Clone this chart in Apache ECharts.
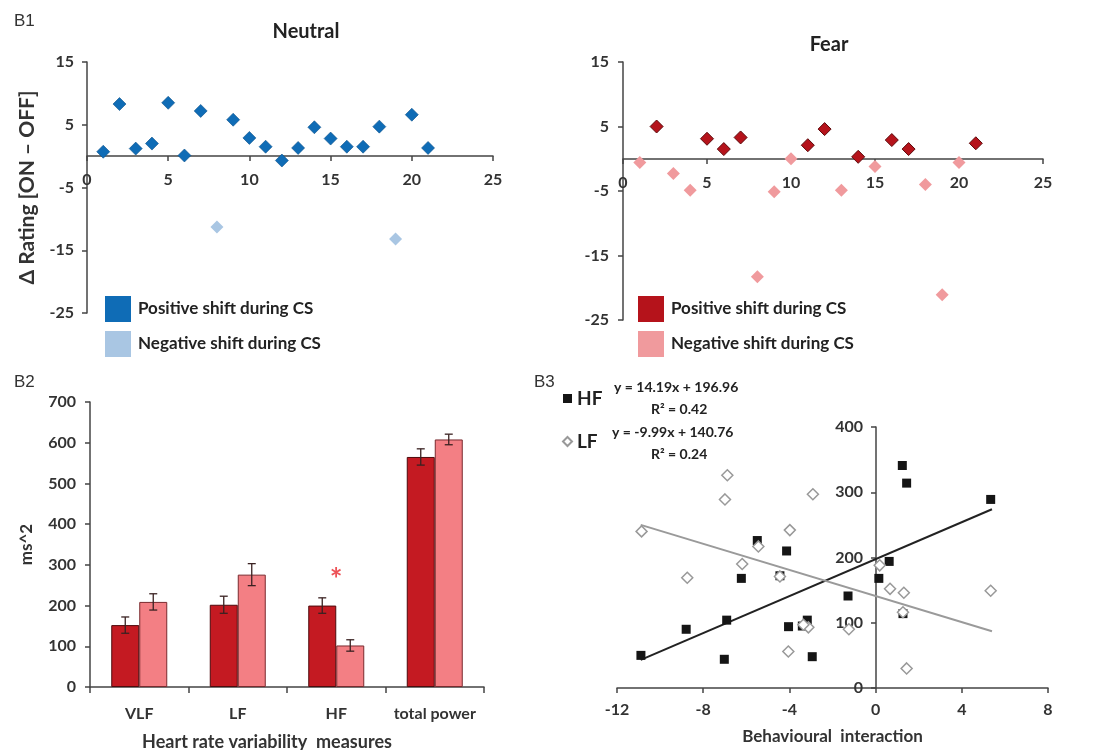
<!DOCTYPE html>
<html>
<head>
<meta charset="utf-8">
<script src="https://cdn.jsdelivr.net/npm/echarts@6/dist/echarts.min.js"></script>
<style>
  html, body { margin: 0; padding: 0; background: #fff; }
  #chart { width: 1094px; height: 750px; }
</style>
</head>
<body>
<div id="chart"></div>
<script>
// B1 - change in rating per participant (x = participant number)
const neutralPos = [[1, 0.7], [2, 8.3], [3, 1.2], [4, 2.0], [5, 8.5], [6, 0.1], [7, 7.2], [9, 5.8], [10, 2.9],
  [11, 1.5], [12, -0.7], [13, 1.3], [14, 4.6], [15, 2.8], [16, 1.5], [17, 1.5], [18, 4.7], [20, 6.6], [21, 1.3]];
const neutralNeg = [[8, -11.3], [19, -13.2]];
const fearPos = [[2, 5.0], [5, 3.1], [6, 1.5], [7, 3.3], [11, 2.1], [12, 4.6], [14, 0.3], [16, 2.9], [17, 1.5], [21, 2.4]];
const fearNeg = [[1, -0.6], [3, -2.3], [4, -4.9], [8, -18.3], [9, -5.1], [10, 0.0], [13, -4.9], [15, -1.2],
  [18, -4.0], [19, -21.1], [20, -0.6]];

// B2 - heart rate variability
const hrvCategories = ['VLF', 'LF', 'HF', 'total power'];
const hrvDark = [152, 202, 200, 565];
const hrvDarkErr = [20, 21, 19, 20];
const hrvLight = [209, 276, 102, 608];
const hrvLightErr = [20, 27, 14, 13];
const yTicksB2 = [0, 700, 100]; // min, max, step

// B3 - behavioural interaction vs HF / LF
const hfPoints = [[1.24, 341], [1.44, 314], [5.34, 289], [-5.49, 226], [-4.13, 210], [0.63, 194], [-6.23, 168],
  [-4.44, 172], [0.15, 168], [-1.28, 141], [1.27, 114], [-6.91, 104], [-3.17, 104], [-4.04, 94], [-3.40, 95],
  [-8.79, 90], [-10.89, 50], [-7.02, 44], [-2.94, 48]];
const lfPoints = [[-6.88, 326], [-6.99, 289], [-2.91, 297], [-10.86, 240], [-3.98, 242], [-5.44, 217], [-6.19, 190],
  [0.19, 188], [-8.74, 169], [-4.44, 171], [0.67, 152], [1.31, 146], [5.34, 149], [1.27, 116], [-3.12, 93],
  [-1.24, 90], [-4.05, 56], [1.44, 30], [-3.35, 97]];
const hfTrend = [[-10.9, 43], [5.4, 274]];
const lfTrend = [[-10.9, 250], [5.4, 87]];
const hfEquation = ['y = 14.19x + 196.96', 'R² = 0.42'];
const lfEquation = ['y = -9.99x + 140.76', 'R² = 0.24'];

const FONT = 'Lato, "Open Sans", sans-serif';
const axisCol = '#444';
const labelStyle = { color: '#333', fontSize: 16, fontWeight: 'bold', fontFamily: FONT };

const chart = echarts.init(document.getElementById('chart'));

function valueAxis(extra) {
  return Object.assign({
    type: 'value',
    splitLine: { show: false },
    axisLine: { show: true, onZero: false, lineStyle: { color: axisCol, width: 1.5 } },
    axisTick: { show: true, length: 5, lineStyle: { color: axisCol, width: 1.5 } },
    axisLabel: Object.assign({}, labelStyle)
  }, extra);
}

const legendName = name => name.split('#')[0];

function errorBars(values, errs, offset, name) {
  return {
    type: 'custom',
    name: name,
    xAxisIndex: 2,
    yAxisIndex: 2,
    z: 5,
    data: values.map((v, i) => [i, v, errs[i]]),
    renderItem: function (params, api) {
      const c = api.coord([api.value(0), api.value(1)]);
      const hi = api.coord([api.value(0), api.value(1) + api.value(2)]);
      const lo = api.coord([api.value(0), api.value(1) - api.value(2)]);
      const x = c[0] + offset;
      const cap = 4;
      const st = { stroke: '#3a2222', lineWidth: 1.3 };
      return {
        type: 'group',
        children: [
          { type: 'line', shape: { x1: x, y1: hi[1], x2: x, y2: lo[1] }, style: st },
          { type: 'line', shape: { x1: x - cap, y1: hi[1], x2: x + cap, y2: hi[1] }, style: st },
          { type: 'line', shape: { x1: x - cap, y1: lo[1], x2: x + cap, y2: lo[1] }, style: st }
        ]
      };
    }
  };
}

const option = {
  backgroundColor: '#fff',
  animation: false,
  textStyle: { fontFamily: FONT },
  title: [
    { text: 'B1', left: 9, top: 8, textStyle: { fontSize: 17, fontWeight: 'normal', color: '#333', fontFamily: 'Liberation Sans, Arial' } },
    { text: 'Neutral', left: 301, top: 17, textAlign: 'center', textStyle: { fontSize: 20, fontWeight: 'bold', color: '#222', fontFamily: FONT } },
    { text: 'Fear', left: 824, top: 30, textAlign: 'center', textStyle: { fontSize: 20, fontWeight: 'bold', color: '#222', fontFamily: FONT } },
    { text: 'B2', left: 9, top: 369, textStyle: { fontSize: 17, fontWeight: 'normal', color: '#333', fontFamily: 'Liberation Sans, Arial' } },
    { text: 'B3', left: 529, top: 369, textStyle: { fontSize: 17, fontWeight: 'normal', color: '#333', fontFamily: 'Liberation Sans, Arial' } },
    { text: 'Heart rate variability  measures', left: 262, top: 728, textAlign: 'center', textStyle: { fontSize: 18, fontWeight: 'bold', color: '#333', fontFamily: FONT } }
  ],
  legend: [
    {
      left: 100, top: 291, orient: 'vertical', itemWidth: 26, itemHeight: 26, itemGap: 9, icon: 'rect',
      data: ['Positive shift during CS#n', 'Negative shift during CS#n'],
      formatter: legendName, itemStyle: { borderWidth: 0 },
      textStyle: { fontSize: 17, fontWeight: 'bold', color: '#222', fontFamily: FONT, padding: [0, 0, 0, 2] }
    },
    {
      left: 633, top: 291, orient: 'vertical', itemWidth: 26, itemHeight: 26, itemGap: 9, icon: 'rect',
      data: ['Positive shift during CS#f', 'Negative shift during CS#f'],
      formatter: legendName, itemStyle: { borderWidth: 0 },
      textStyle: { fontSize: 17, fontWeight: 'bold', color: '#222', fontFamily: FONT, padding: [0, 0, 0, 2] }
    },
    {
      left: 557, top: 384, orient: 'vertical', itemWidth: 9, itemHeight: 9, itemGap: 24,
      data: [{ name: 'HF', icon: 'rect' }, { name: 'LF', icon: 'diamond' }],
      textStyle: { fontSize: 19, fontWeight: 'bold', color: '#222', fontFamily: FONT, padding: [0, 0, 0, 0] }
    }
  ],
  grid: [
    { left: 87, top: 62, width: 406, height: 251 },
    { left: 623, top: 62, width: 420, height: 258 },
    { left: 90, top: 402, width: 394, height: 285 },
    { left: 617, top: 427, width: 431, height: 261 }
  ],
  xAxis: [
    // axis line drawn at y = 0 (offset up from the grid bottom)
    valueAxis({ gridIndex: 0, min: 0, max: 25, interval: 5, offset: -157, axisLabel: Object.assign({}, labelStyle, { margin: 16 }) }),
    valueAxis({ gridIndex: 1, min: 0, max: 25, interval: 5, offset: -161, axisLabel: Object.assign({}, labelStyle, { margin: 16 }) }),
    {
      type: 'category', gridIndex: 2, data: hrvCategories,
      axisLine: { lineStyle: { color: axisCol, width: 1.5 } },
      axisTick: { show: true, length: 6, lineStyle: { color: axisCol, width: 1.5 } },
      axisLabel: Object.assign({}, labelStyle, { margin: 19, interval: 0 })
    },
    valueAxis({
      gridIndex: 3, min: -12, max: 8, interval: 4,
      axisLabel: Object.assign({}, labelStyle, { margin: 14 }),
      name: 'Behavioural  interaction', nameLocation: 'middle', nameGap: 40,
      nameTextStyle: { fontSize: 17, fontWeight: 'bold', color: '#333', fontFamily: FONT }
    })
  ],
  yAxis: [
    valueAxis({
      gridIndex: 0, min: -25, max: 15, interval: 10,
      axisLabel: Object.assign({}, labelStyle, { margin: 13 }),
      name: 'Δ Rating [ON – OFF]', nameLocation: 'middle', nameGap: 49, nameRotate: 90,
      nameTextStyle: { fontSize: 21, fontWeight: 'bold', color: '#333', fontFamily: FONT }
    }),
    valueAxis({ gridIndex: 1, min: -25, max: 15, interval: 10, axisLabel: Object.assign({}, labelStyle, { margin: 14 }) }),
    valueAxis({
      gridIndex: 2, min: yTicksB2[0], max: yTicksB2[1], interval: yTicksB2[2],
      axisLabel: Object.assign({}, labelStyle, { margin: 14 }),
      name: 'ms^2', nameLocation: 'middle', nameGap: 55, nameRotate: 90,
      nameTextStyle: { fontSize: 17, fontWeight: 'bold', color: '#333', fontFamily: FONT }
    }),
    // axis line drawn at x = 0 (offset right from the grid left edge)
    valueAxis({ gridIndex: 3, min: 0, max: 400, interval: 100, offset: -259, axisLabel: Object.assign({}, labelStyle, { margin: 13 }) })
  ],
  graphic: [
    { type: 'text', left: 614, top: 380, style: { text: hfEquation[0], fontSize: 14, fontWeight: 'bold', fill: '#222', fontFamily: FONT } },
    { type: 'text', left: 651, top: 402, style: { text: hfEquation[1], fontSize: 14, fontWeight: 'bold', fill: '#222', fontFamily: FONT } },
    { type: 'text', left: 612, top: 425, style: { text: lfEquation[0], fontSize: 14, fontWeight: 'bold', fill: '#222', fontFamily: FONT } },
    { type: 'text', left: 651, top: 447, style: { text: lfEquation[1], fontSize: 14, fontWeight: 'bold', fill: '#222', fontFamily: FONT } }
  ],
  series: [
    // B1 Neutral
    { name: 'Positive shift during CS#n', type: 'scatter', xAxisIndex: 0, yAxisIndex: 0, symbol: 'diamond', symbolSize: 13,
      itemStyle: { color: '#0f6cb6', borderColor: '#0a4f88', borderWidth: 0.6, opacity: 1 }, data: neutralPos },
    { name: 'Negative shift during CS#n', type: 'scatter', xAxisIndex: 0, yAxisIndex: 0, symbol: 'diamond', symbolSize: 13,
      itemStyle: { color: '#a9c6e3', opacity: 1 }, data: neutralNeg },
    // B1 Fear
    { name: 'Positive shift during CS#f', type: 'scatter', xAxisIndex: 1, yAxisIndex: 1, symbol: 'diamond', symbolSize: 13,
      itemStyle: { color: '#b5131b', borderColor: '#5e0a0c', borderWidth: 1, opacity: 1 }, data: fearPos },
    { name: 'Negative shift during CS#f', type: 'scatter', xAxisIndex: 1, yAxisIndex: 1, symbol: 'diamond', symbolSize: 13,
      itemStyle: { color: '#f09a9d', opacity: 1 }, data: fearNeg },
    // B2 bars
    { name: 'dark', type: 'bar', xAxisIndex: 2, yAxisIndex: 2, barWidth: 28, barGap: '0%', data: hrvDark,
      itemStyle: { color: '#c41a22', borderColor: '#4e0a0c', borderWidth: 1 } },
    { name: 'light', type: 'bar', xAxisIndex: 2, yAxisIndex: 2, barWidth: 28, barGap: '0%', data: hrvLight,
      itemStyle: { color: '#f37f84', borderColor: '#7a2a2e', borderWidth: 1 } },
    errorBars(hrvDark, hrvDarkErr, -14, 'darkErr'),
    errorBars(hrvLight, hrvLightErr, 14, 'lightErr'),
    { name: 'sig', type: 'scatter', xAxisIndex: 2, yAxisIndex: 2, symbolSize: 0, z: 6,
      data: [['HF', 262]],
      label: { show: true, position: 'inside', formatter: '*', color: '#e8262c', fontSize: 30, fontWeight: 'bold', fontFamily: FONT } },
    // B3 trend lines
    { name: 'hfTrend', type: 'line', xAxisIndex: 3, yAxisIndex: 3, data: hfTrend, symbol: 'none', z: 1,
      lineStyle: { color: '#222', width: 2 } },
    { name: 'lfTrend', type: 'line', xAxisIndex: 3, yAxisIndex: 3, data: lfTrend, symbol: 'none', z: 1,
      lineStyle: { color: '#9a9a9a', width: 2 } },
    // B3 points
    { name: 'HF', type: 'scatter', xAxisIndex: 3, yAxisIndex: 3, symbol: 'rect', symbolSize: 9, z: 3,
      itemStyle: { color: '#151515', opacity: 1 }, data: hfPoints },
    { name: 'LF', type: 'scatter', xAxisIndex: 3, yAxisIndex: 3, symbol: 'diamond', symbolSize: 11, z: 4,
      itemStyle: { color: '#ffffff', borderColor: '#999', borderWidth: 1.5, opacity: 1 }, data: lfPoints }
  ]
};

chart.setOption(option);
</script>
</body>
</html>
